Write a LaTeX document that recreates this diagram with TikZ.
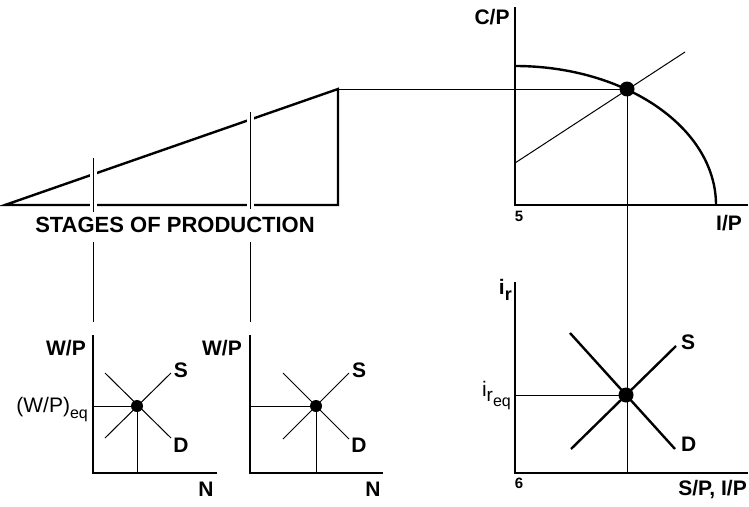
\documentclass[tikz,border=0pt]{standalone}
\usepackage{fontspec}
\setmainfont{Liberation Sans}
\tikzset{
  lbl/.style={font=\fontsize{21}{21}\selectfont\bfseries, inner sep=0pt},
  big/.style={font=\fontsize{22}{22}\selectfont\bfseries, inner sep=0pt},
  small/.style={font=\fontsize{15}{15}\selectfont\bfseries, inner sep=0pt},
  reg/.style={font=\fontsize{21}{21}\selectfont, inner sep=0pt},
  axis/.style={line width=1.6pt},
  thin/.style={line width=1pt},
  thick/.style={line width=2.4pt},
  dot/.style={circle, fill=black, inner sep=0pt, minimum size=#1},
  tick/.style={line width=1pt, preaction={draw=white, line width=7pt}}
}
\begin{document}
\begin{tikzpicture}[x=1pt,y=-1pt]
\useasboundingbox (0,0) rectangle (749,506);
% ---------- ramp (stages of production)
\coordinate (rl) at (5,205);
\coordinate (rt) at (338,89);
\coordinate (rb) at (338,205);
\draw[thick, line join=miter] (rb) -- (rl) -- (rt) -- cycle;
\coordinate (t1a) at (93,158); \coordinate (t1b) at (93,212);
\coordinate (t2a) at (250,112); \coordinate (t2b) at (250,209);
\draw[tick] (t1a) -- (t1b);
\draw[tick] (t2a) -- (t2b);
\node[big] (stages) at (175,225) {STAGES OF PRODUCTION};
\coordinate (v1a) at (93,242); \coordinate (v1b) at (93,322);
\coordinate (v2a) at (250,242); \coordinate (v2b) at (250,322);
\draw[thin] (v1a) -- (v1b);
\draw[thin] (v2a) -- (v2b);
% ---------- top right panel
\coordinate (o1) at (515,205);
\coordinate (y1) at (515,7);
\coordinate (x1) at (748,205);
\draw[axis] (y1) -- (o1) -- (x1);
\draw[thick] (515,66) arc[start angle=90, end angle=0, x radius=201pt, y radius=139pt];
\coordinate (l1a) at (515,163); \coordinate (l1b) at (685,52);
\draw[thin] (l1a) -- (l1b);
\node[lbl] (cp) at (492,17) {C/P};
\node[lbl, anchor=west] (ip) at (716,223) {I/P};
\node[small] (five) at (519,216) {5};
% ---------- lower right panel
\coordinate (o2) at (515,473);
\coordinate (y2) at (515,282);
\coordinate (x2) at (748,473);
\draw[axis] (y2) -- (o2) -- (x2);
\coordinate (s2a) at (571,449); \coordinate (s2b) at (676,346);
\coordinate (d2a) at (570,333); \coordinate (d2b) at (675,449);
\draw[thick] (s2a) -- (s2b);
\draw[thick] (d2a) -- (d2b);
\coordinate (h2) at (515,395);
\node[dot=15pt] (e2) at (626,395) {};
\draw[thin] (h2) -- (e2.center);
\node[lbl, anchor=west] (s2l) at (681,342) {S};
\node[lbl, anchor=west] (d2l) at (681,444) {D};
\node[lbl, anchor=base east] (ir) at (512,294) {i\raisebox{-0.3em}{\fontsize{18}{18}\selectfont r}};
\node[reg, anchor=base east] (ireq) at (511,396) {i\raisebox{-0.28em}{\fontsize{19}{19}\selectfont r\raisebox{-0.25em}{\fontsize{16}{16}\selectfont eq}}};
\node[small] (six) at (519,483) {6};
\node[lbl, anchor=east] (spip) at (747,490) {S/P, I/P};
% ---------- equilibrium connectors top
\node[dot=15pt] (e1) at (627,89) {};
\draw[thin] (rt) -- (e1.center);
\coordinate (vb) at (627,473);
\draw[thin] (e1.center) -- (vb);
% ---------- lower left panel 1
\coordinate (o3) at (93,473);
\coordinate (y3) at (93,335);
\coordinate (x3) at (217,473);
\draw[axis] (y3) -- (o3) -- (x3);
\coordinate (s3a) at (105,438); \coordinate (s3b) at (171,373);
\coordinate (d3a) at (105,373); \coordinate (d3b) at (171,438);
\draw[thin] (s3a) -- (s3b);
\draw[thin] (d3a) -- (d3b);
\node[dot=12pt] (e3) at (137,406) {};
\coordinate (h3) at (93,406); \coordinate (b3) at (137,473);
\draw[thin] (h3) -- (e3.center) -- (b3);
\node[lbl, anchor=east] (wp3) at (86,348) {W/P};
\node[lbl] (s3l) at (181,370) {S};
\node[lbl] (d3l) at (181,445) {D};
\node[lbl] (n3l) at (206,489) {N};
\node[reg, anchor=base east] (wpeq) at (88,412) {(W/P)\raisebox{-0.3em}{\fontsize{16}{16}\selectfont eq}};
% ---------- lower left panel 2
\coordinate (o4) at (250,473);
\coordinate (y4) at (250,335);
\coordinate (x4) at (383,473);
\draw[axis] (y4) -- (o4) -- (x4);
\coordinate (s4a) at (283,439); \coordinate (s4b) at (349,373);
\coordinate (d4a) at (283,373); \coordinate (d4b) at (349,439);
\draw[thin] (s4a) -- (s4b);
\draw[thin] (d4a) -- (d4b);
\node[dot=12pt] (e4) at (316,406) {};
\coordinate (h4) at (250,406); \coordinate (b4) at (316,473);
\draw[thin] (h4) -- (e4.center) -- (b4);
\node[lbl, anchor=east] (wp4) at (242,348) {W/P};
\node[lbl] (s4l) at (359,370) {S};
\node[lbl] (d4l) at (359,445) {D};
\node[lbl] (n4l) at (373,489) {N};
\end{tikzpicture}
\end{document}
